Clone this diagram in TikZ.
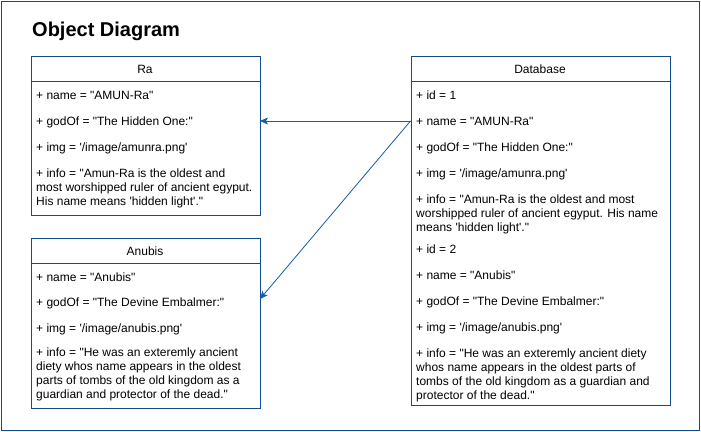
\documentclass[tikz,border=0pt]{standalone}
\usepackage{fontspec}
\setmainfont{Liberation Sans}
\usetikzlibrary{arrows.meta}
\definecolor{boxblue}{RGB}{16,76,148}
\definecolor{linkblue}{RGB}{20,90,170}
\newcommand{\sq}{\textquotesingle}
\newcommand{\dq}{\textquotedbl}
\begin{document}
\begin{tikzpicture}[x=1pt,y=-1pt,
  frame/.style={draw=boxblue, line width=1pt},
  objbox/.style={draw=boxblue, fill=white, line width=1pt, inner sep=0pt, anchor=north west},
  sep/.style={draw=boxblue, line width=1pt},
  attr/.style={anchor=base west, inner sep=0pt, font=\fontsize{12}{14}\selectfont},
  head/.style={anchor=base, inner sep=0pt, font=\fontsize{12}{14}\selectfont},
  titletext/.style={anchor=base west, inner sep=0pt, font=\fontsize{20}{24}\selectfont\bfseries},
  link/.style={draw=linkblue, line width=0.8pt, -{Stealth[length=8pt,width=7pt,inset=2pt]}}
]
\useasboundingbox (0,0) rectangle (701,431);
\draw[frame] (1,1) rectangle (699.5,430);

\node[titletext] (title) at (32,36.7) {Object Diagram};

% Ra
\node[objbox, minimum width=229.5pt, minimum height=159.5pt] (ra) at (30.5,55.5) {};
\draw[sep] (ra.north west) ++(0,26) -- ++(229.5,0);
\node[head] (raHead) at (145,73.5) {Ra};
\node[attr] (raName) at (36,99) {+ name = \dq{}AMUN-Ra\dq{}};
\node[attr] (raGod) at (36,125) {+ godOf = \dq{}The Hidden One:\dq{}};
\node[attr] (raImg) at (36,151.5) {+ img = \sq/image/amunra.png\sq};
\node[attr] (raInfoA) at (36,177.7) {+ info = \dq{}Amun-Ra is the oldest and};
\node[attr] (raInfoB) at (36,191.7) {most worshipped ruler of ancient egyput.};
\node[attr] (raInfoC) at (36,205.7) {His name means \sq{}hidden light\sq.\dq{}};

% Anubis
\node[objbox, minimum width=229.5pt, minimum height=170pt] (anubis) at (30.5,237.5) {};
\draw[sep] (anubis.north west) ++(0,26) -- ++(229.5,0);
\node[head] (anHead) at (145,255) {Anubis};
\node[attr] (anName) at (36,281.5) {+ name = \dq{}Anubis\dq{}};
\node[attr] (anGod) at (36,306.5) {+ godOf = \dq{}The Devine Embalmer:\dq{}};
\node[attr] (anImg) at (36,332.5) {+ img = \sq/image/anubis.png\sq};
\node[attr] (anInfoA) at (36,356.7) {+ info = \dq{}He was an exteremly ancient};
\node[attr] (anInfoB) at (36,370.7) {diety whos name appears in the oldest};
\node[attr] (anInfoC) at (36,384.7) {parts of tombs of the old kingdom as a};
\node[attr] (anInfoD) at (36,398.7) {guardian and protector of the dead.\dq{}};

% Database
\node[objbox, minimum width=259.5pt, minimum height=349.5pt] (db) at (410.5,55.5) {};
\draw[sep] (db.north west) ++(0,26) -- ++(259.5,0);
\node[head] (dbHead) at (540,73) {Database};
\node[attr] (dbIdA) at (416,99) {+ id = 1};
\node[attr] (dbNameA) at (416,125) {+ name = \dq{}AMUN-Ra\dq{}};
\node[attr] (dbGodA) at (416,151) {+ godOf = \dq{}The Hidden One:\dq{}};
\node[attr] (dbImgA) at (416,177.5) {+ img = \sq/image/amunra.png\sq};
\node[attr] (dbInfoA1) at (416,203) {+ info = \dq{}Amun-Ra is the oldest and most};
\node[attr] (dbInfoA2) at (416,217) {worshipped ruler of ancient egyput. His name};
\node[attr] (dbInfoA3) at (416,231) {means \sq{}hidden light\sq.\dq{}};
\node[attr] (dbIdB) at (416,253.3) {+ id = 2};
\node[attr] (dbNameB) at (416,279) {+ name = \dq{}Anubis\dq{}};
\node[attr] (dbGodB) at (416,305.5) {+ godOf = \dq{}The Devine Embalmer:\dq{}};
\node[attr] (dbImgB) at (416,331.7) {+ img = \sq/image/anubis.png\sq};
\node[attr] (dbInfoB1) at (416,357) {+ info = \dq{}He was an exteremly ancient diety};
\node[attr] (dbInfoB2) at (416,371) {whos name appears in the oldest parts of};
\node[attr] (dbInfoB3) at (416,385) {tombs of the old kingdom as a guardian and};
\node[attr] (dbInfoB4) at (416,399) {protector of the dead.\dq{}};

% connectors
\coordinate (src) at (410.5,121);
\coordinate (raIn) at (260,121);
\coordinate (anIn) at (260,299);
\draw[link] (src) -- (raIn);
\draw[link] (src) -- (anIn);
\end{tikzpicture}
\end{document}
